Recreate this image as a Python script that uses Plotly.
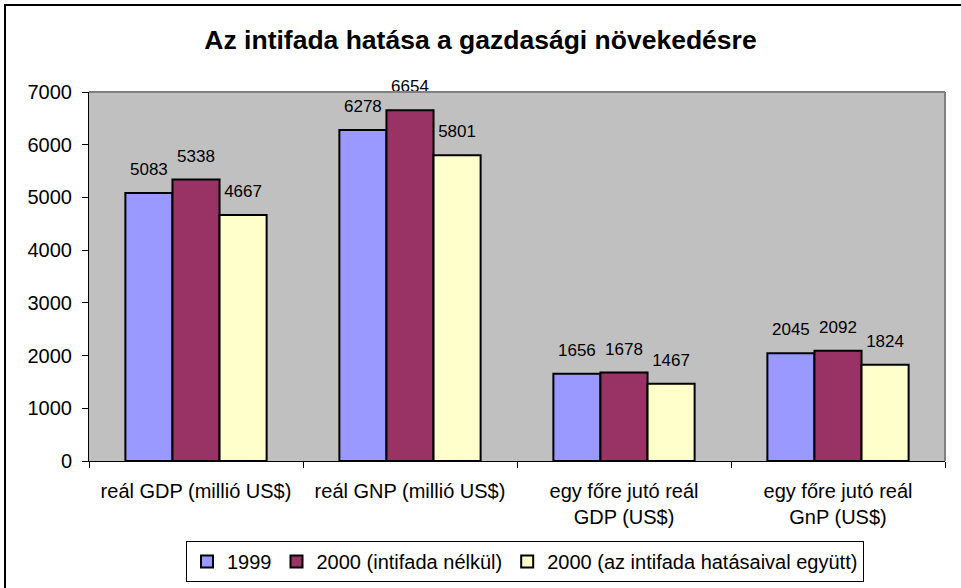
import plotly.graph_objects as go

categories = ["reál GDP (millió US$)", "reál GNP (millió US$)",
              "egy főre jutó reál<br>GDP (US$)", "egy főre jutó reál<br>GnP (US$)"]
series_names = ["1999", "2000 (intifada nélkül)", "2000 (az intifada hatásaival együtt)"]
values_1999 = [5083, 6278, 1656, 2045]
values_2000_no = [5338, 6654, 1678, 2092]
values_2000_int = [4667, 5801, 1467, 1824]
colors = ["#9999FF", "#993366", "#FFFFCC"]
y_ticks = [0, 1000, 2000, 3000, 4000, 5000, 6000, 7000]

FONT = "Liberation Sans, Arial, sans-serif"
GAP = 0.34

fig = go.Figure()
all_vals = [values_1999, values_2000_no, values_2000_int]
for i, (name, vals, col) in enumerate(zip(series_names, all_vals, colors)):
    fig.add_trace(go.Bar(
        x=categories, y=vals, name=name, offsetgroup=str(i),
        marker=dict(color=col, line=dict(color="black", width=2)),
        hoverinfo="skip",
    ))
for i, vals in enumerate(all_vals):
    fig.add_trace(go.Scatter(
        x=categories, y=vals, mode="markers+text", offsetgroup=str(i),
        text=[str(v) for v in vals], textposition="top center",
        textfont=dict(family=FONT, size=17, color="black"),
        marker=dict(size=20, opacity=0), showlegend=False, hoverinfo="skip",
        cliponaxis=False,
    ))

L, R, T, B = 89, 16, 92, 127
W, H = 961, 588
pw, ph = W - L - R, H - T - B

def px_x(p):
    return (p - L) / pw

def px_y(p):
    return (H - B - p) / ph

fig.update_layout(
    width=W, height=H,
    margin=dict(l=L, r=R, t=T, b=B, autoexpand=False),
    paper_bgcolor="white", plot_bgcolor="#C0C0C0",
    barmode="group", bargap=GAP, bargroupgap=0,
    scattermode="group", scattergap=GAP,
    font=dict(family=FONT, color="black", size=20),
    title=dict(text="<b>Az intifada hatása a gazdasági növekedésre</b>",
               x=0.5, xref="container", xanchor="center", y=1 - 40 / H, yanchor="middle",
               font=dict(family=FONT, size=26.5, color="black")),
    showlegend=True,
    legend=dict(orientation="h", x=px_x(525), xanchor="center", y=px_y(541), yanchor="top",
                bordercolor="black", borderwidth=1, bgcolor="white",
                font=dict(family=FONT, size=20, color="black"),
                itemwidth=30, traceorder="normal"),
    xaxis=dict(showline=True, linecolor="black", linewidth=1, ticks="outside",
               tickson="boundaries", ticklen=6, tickcolor="black", automargin=False,
               showgrid=False, tickfont=dict(family=FONT, size=20), ticklabelstandoff=12),
    yaxis=dict(range=[0, 7000], tickvals=y_ticks, showline=True, linecolor="black",
               linewidth=1, ticks="outside", ticklen=6, tickcolor="black", automargin=False,
               showgrid=False, zeroline=False, tickfont=dict(family=FONT, size=20),
               ticklabelstandoff=6),
    shapes=[
        dict(type="line", xref="paper", yref="paper", x0=0, x1=1, y0=1, y1=1,
             line=dict(color="#808080", width=2)),
        dict(type="line", xref="paper", yref="paper", x0=1, x1=1, y0=0, y1=1,
             line=dict(color="#808080", width=2)),
        dict(type="rect", xref="paper", yref="paper", x0=px_x(5), x1=px_x(970),
             y0=px_y(600), y1=px_y(5), line=dict(color="black", width=2), layer="above"),
    ],
)

fig.write_html("out.html", config={"displayModeBar": False},
               post_script="document.body.style.margin='0';document.body.style.padding='0';")
